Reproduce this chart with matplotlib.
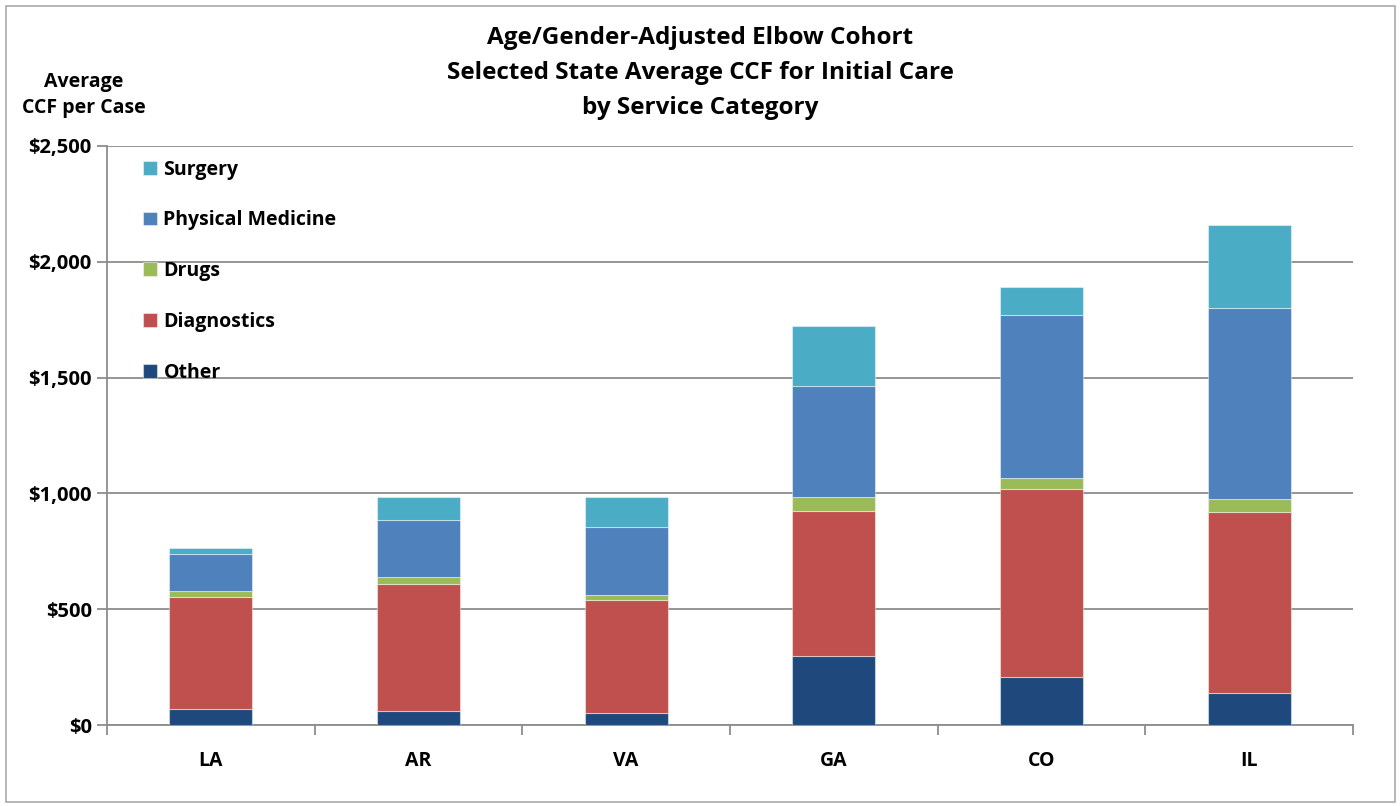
import numpy as np
import matplotlib.pyplot as plt
from matplotlib.patches import Rectangle
from matplotlib.ticker import FuncFormatter, MultipleLocator

# average CCF per case by service category
states = ["LA", "AR", "VA", "GA", "CO", "IL"]
other = [70, 59, 50, 297, 206, 137]
diagnostics = [484, 551, 490, 628, 813, 784]
drugs = [25, 30, 23, 58, 46, 54]
physical_medicine = [161, 247, 292, 482, 705, 824]
surgery = [23, 96, 131, 256, 121, 362]

series = [
    ("Other", other, "#1F497D"),
    ("Diagnostics", diagnostics, "#C0504D"),
    ("Drugs", drugs, "#9BBB59"),
    ("Physical Medicine", physical_medicine, "#4F81BD"),
    ("Surgery", surgery, "#4BACC6"),
]

plt.rcParams['font.family'] = ['Open Sans', 'DejaVu Sans']
plt.rcParams['font.weight'] = 'bold'

fig = plt.figure(figsize=(14, 8.06), dpi=100)
ax = fig.add_axes([107 / 1400, 1 - 725 / 806, 1246 / 1400, 579 / 806])

x = np.arange(len(states))
bottom = np.zeros(len(states))
handles = []
for name, vals, color in series:
    b = ax.bar(x, vals, 0.4, bottom=bottom, color=color, label=name,
               edgecolor=(1, 1, 1, 0.45), linewidth=0.8, zorder=3)
    handles.append(b)
    bottom += np.array(vals)

ax.set_xlim(-0.5, len(states) - 0.5)
ax.set_ylim(0, 2500)
ax.yaxis.set_major_locator(MultipleLocator(500))
ax.yaxis.set_major_formatter(FuncFormatter(lambda v, p: "${:,.0f}".format(v)))
ax.grid(axis='y', color='#8c8c8c', linewidth=1.3, zorder=0)

ax.set_xticks(x)
ax.set_xticklabels(states)
ax.set_xticks(np.arange(-0.5, len(states)), minor=True)
ax.tick_params(axis='x', which='major', length=0, pad=19, labelsize=14)
ax.tick_params(axis='x', which='minor', length=7, color='#8c8c8c', width=1.3)
ax.tick_params(axis='y', length=7, color='#8c8c8c', width=1.3, labelsize=14.5, pad=4)
for lab in ax.get_xticklabels() + ax.get_yticklabels():
    lab.set_fontweight('bold')

for side in ['top', 'right']:
    ax.spines[side].set_visible(False)
for side in ['left', 'bottom']:
    ax.spines[side].set_color('#8c8c8c')
    ax.spines[side].set_linewidth(1.3)

leg = ax.legend(handles[::-1], [s[0] for s in series][::-1], loc='upper left',
                bbox_to_anchor=(0.018, 1.0), frameon=False, fontsize=14,
                handlelength=0.7, handleheight=0.7, handletextpad=0.35,
                labelspacing=1.58, borderaxespad=0.3)
for t in leg.get_texts():
    t.set_fontweight('bold')

fig.text(0.5, 1 - 38 / 806, "Age/Gender-Adjusted Elbow Cohort", ha='center',
         va='center', fontsize=17.5, fontweight='bold')
fig.text(0.5, 1 - 73 / 806, "Selected State Average CCF for Initial Care", ha='center',
         va='center', fontsize=17.5, fontweight='bold')
fig.text(0.5, 1 - 108 / 806, "by Service Category", ha='center',
         va='center', fontsize=17.5, fontweight='bold')
fig.text(84 / 1400, 1 - 95 / 806, "Average\nCCF per Case", ha='center',
         va='center', fontsize=14, fontweight='bold', linespacing=1.45)

# light frame around the whole chart
fig.patches.append(Rectangle((6 / 1400, 4 / 806), 1389 / 1400, 796 / 806,
                             transform=fig.transFigure, fill=False,
                             edgecolor='#aaaaaa', linewidth=1.2))

fig.savefig("out.png", dpi=100)
